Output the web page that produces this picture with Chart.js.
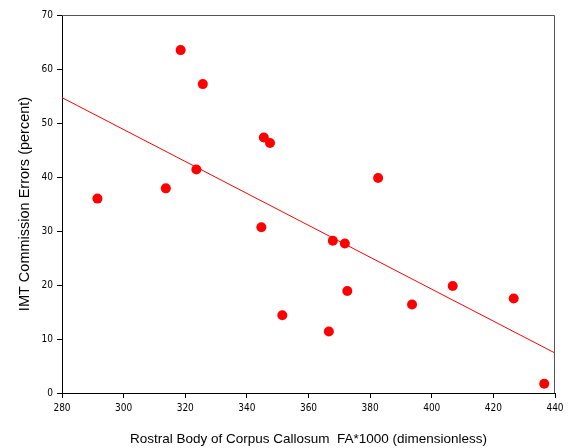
<!DOCTYPE html>
<html>
<head>
<meta charset="utf-8">
<script src="https://cdn.jsdelivr.net/npm/chart.js@4"></script>
<style>
  html, body { margin: 0; padding: 0; background: #fff; }
  #wrap { width: 571px; height: 448px; }
</style>
</head>
<body>
<div id="wrap"><canvas id="myChart" width="571" height="448"></canvas></div>
<script>
//FA values (x) and commission errors (y) for each subject.
let faValues = [291.5, 313.7, 318.5, 323.6, 325.7, 344.7, 345.5, 347.5, 351.5, 366.6, 367.9, 371.8, 372.6, 382.6, 393.6, 406.8, 426.6, 436.5];
let errorValues = [36.0, 37.9, 63.5, 41.4, 57.2, 30.7, 47.3, 46.3, 14.4, 11.4, 28.2, 27.7, 18.9, 39.8, 16.4, 19.8, 17.5, 1.7];

//Ends of the fitted regression line.
let fitX = [280, 440];
let fitY = [54.7, 7.4];

//Axis ranges and tick steps.
let xTicks = [280, 440, 20];
let yTicks = [0, 70, 10];

let xTitle = "Rostral Body of Corpus Callosum  FA*1000 (dimensionless)";
let yTitle = "IMT Commission Errors (percent)";

let points = faValues.map((x, i) => {
  return { x: x, y: errorValues[i] };
});
let fitLine = fitX.map((x, i) => {
  return { x: x, y: fitY[i] };
});

//Draw the grey box round the top and right of the plot area.
let framePlugin = {
  id: "frame",
  afterDraw(chart) {
    let ctx = chart.ctx;
    let a = chart.chartArea;
    ctx.save();
    ctx.strokeStyle = "#555";
    ctx.lineWidth = 1;
    ctx.beginPath();
    ctx.moveTo(a.left, a.top + 0.5);
    ctx.lineTo(a.right - 0.5, a.top + 0.5);
    ctx.lineTo(a.right - 0.5, a.bottom);
    ctx.stroke();
    ctx.restore();
  }
};

let tickFont = { family: "'Liberation Sans Narrow', 'Arial Narrow', 'DejaVu Sans Condensed', sans-serif", size: 10 };

let ctx = document.getElementById("myChart").getContext("2d");
let myChart = new Chart(ctx, {
  type: "scatter",
  data: {
    datasets: [
      {
        data: points,
        backgroundColor: "#ff0000",
        borderColor: "#ff0000",
        pointRadius: 5,
        pointBorderWidth: 0
      },
      {
        type: "line",
        data: fitLine,
        borderColor: "#ff0000",
        borderWidth: 1,
        pointRadius: 0,
        fill: false
      }
    ]
  },
  options: {
    responsive: false,
    animation: false,
    devicePixelRatio: 1,
    layout: { padding: { top: 15, right: 16, left: 0, bottom: 0 } },
    plugins: {
      legend: { display: false },
      tooltip: { enabled: false }
    },
    scales: {
      x: {
        type: "linear",
        min: xTicks[0],
        max: xTicks[1],
        afterFit(scale) { scale.height = 55; },
        ticks: { stepSize: xTicks[2], color: "#000", font: tickFont, padding: 4, maxRotation: 0 },
        grid: { drawOnChartArea: false, drawTicks: true, tickLength: 5, color: "#000" },
        border: { display: true, color: "#000", width: 1 },
        title: {
          display: true,
          text: xTitle,
          color: "#000",
          font: { family: "'Liberation Sans', Arial, sans-serif", size: 13.5 },
          padding: { top: 0, bottom: 1 }
        }
      },
      y: {
        type: "linear",
        min: yTicks[0],
        max: yTicks[1],
        afterFit(scale) { scale.width = 62; },
        ticks: { stepSize: yTicks[2], color: "#000", font: tickFont, padding: 4 },
        grid: { drawOnChartArea: false, drawTicks: true, tickLength: 5, color: "#000" },
        border: { display: true, color: "#000", width: 1 },
        title: {
          display: true,
          text: yTitle,
          color: "#000",
          font: { family: "'Liberation Sans', Arial, sans-serif", size: 14.5 },
          padding: { top: 16, bottom: 0 }
        }
      }
    }
  },
  plugins: [framePlugin]
});
</script>
</body>
</html>
